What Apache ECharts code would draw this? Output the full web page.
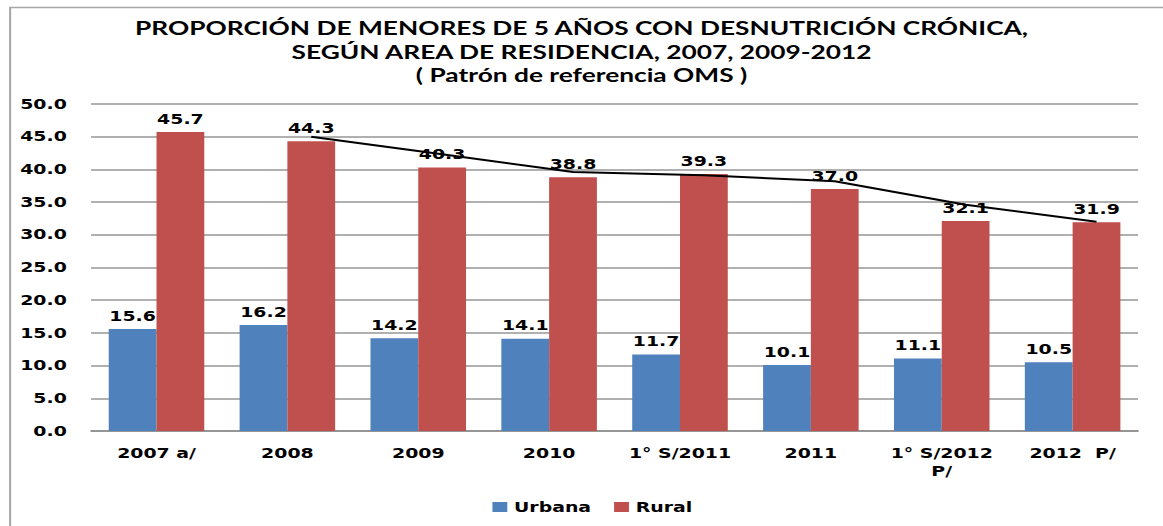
<!DOCTYPE html>
<html>
<head>
<meta charset="utf-8">
<title>Desnutrición crónica</title>
<script src="https://cdn.jsdelivr.net/npm/echarts@6/dist/echarts.min.js"></script>
<style>
  html, body { margin: 0; padding: 0; background: #fff; overflow: hidden; }
  /* the reference picture is stretched sideways, so we draw narrower and stretch it too */
  #chart { width: 862px; height: 526px; transform: scaleX(1.3492); transform-origin: 0 0; }
</style>
</head>
<body>
<div id="chart"></div>
<script>
var categories = ['2007 a/', '2008', '2009', '2010', '1° S/2011', '2011', '1° S/2012\nP/', '2012  P/'];
var urbana = [15.6, 16.2, 14.2, 14.1, 11.7, 10.1, 11.1, 10.5];
var rural = [45.7, 44.3, 40.3, 38.8, 39.3, 37.0, 32.1, 31.9];
// black trend line over the Rural bars
var tendencia = [null, 45.0, 42.3, 39.6, 39.1, 38.2, 34.6, 32.0];
var yTicks = { min: 0, max: 50, interval: 5 };

var labelFont = 'DejaVu Sans';
var catGap = 0.27;
// the rural bar is the right half of the group
var ruralOffset = (1 - catGap) / 4;

var lineData = [];
for (var i = 0; i < tendencia.length; i++) {
  if (tendencia[i] !== null) lineData.push([i + ruralOffset, tendencia[i]]);
}

var myChart = echarts.init(document.getElementById('chart'), null, { renderer: 'svg' });
var option = {
  animation: false,
  title: {
    text: 'PROPORCIÓN DE MENORES DE 5 AÑOS CON DESNUTRICIÓN CRÓNICA,\nSEGÚN AREA DE RESIDENCIA, 2007, 2009-2012\n( Patrón de referencia OMS )',
    left: 'center',
    top: 11,
    textStyle: {
      fontFamily: 'Lato',
      fontWeight: 'bold',
      fontSize: 19.5,
      lineHeight: 23.5,
      color: '#000'
    }
  },
  graphic: [{
    type: 'rect',
    left: 5,
    top: 5,
    shape: { width: 900, height: 560 },
    style: { fill: 'none', stroke: '#a6a6a6', lineWidth: 1.5 },
    silent: true
  }],
  legend: {
    data: ['Urbana', 'Rural'],
    left: 360,
    top: 495,
    icon: 'rect',
    itemWidth: 11,
    itemHeight: 10,
    itemGap: 17,
    textStyle: { fontFamily: labelFont, fontWeight: 'bold', fontSize: 14, color: '#000', padding: [0, 0, 0, 0] }
  },
  grid: { left: 67.5, right: 18.5, top: 104, bottom: 95 },
  xAxis: [{
    type: 'category',
    data: categories,
    axisTick: { show: false },
    axisLine: { lineStyle: { color: '#8c8c8c', width: 1.5 } },
    axisLabel: {
      margin: 13,
      interval: 0,
      fontFamily: labelFont,
      fontWeight: 'bold',
      fontSize: 14,
      lineHeight: 18,
      color: '#000'
    }
  }, {
    type: 'value',
    min: -0.5,
    max: categories.length - 0.5,
    show: false
  }],
  yAxis: {
    type: 'value',
    min: yTicks.min,
    max: yTicks.max,
    interval: yTicks.interval,
    axisLine: { show: false },
    axisTick: { show: false },
    splitLine: { lineStyle: { color: '#969696', width: 1.5 } },
    axisLabel: {
      margin: 18,
      fontFamily: labelFont,
      fontWeight: 'bold',
      fontSize: 14,
      color: '#000',
      formatter: function (v) { return v.toFixed(1); }
    }
  },
  series: [{
    name: 'Urbana',
    type: 'bar',
    data: urbana,
    barGap: '0%',
    barCategoryGap: (catGap * 100) + '%',
    itemStyle: { color: '#4F81BD' },
    label: {
      show: true,
      position: 'top',
      distance: 6,
      fontFamily: labelFont,
      fontWeight: 'bold',
      fontSize: 14,
      color: '#000',
      formatter: function (p) { return p.value.toFixed(1); }
    }
  }, {
    name: 'Rural',
    type: 'bar',
    data: rural,
    barGap: '0%',
    barCategoryGap: (catGap * 100) + '%',
    itemStyle: { color: '#C0504D' },
    label: {
      show: true,
      position: 'top',
      distance: 6,
      fontFamily: labelFont,
      fontWeight: 'bold',
      fontSize: 14,
      color: '#000',
      formatter: function (p) { return p.value.toFixed(1); }
    }
  }, {
    name: 'Tendencia',
    type: 'line',
    xAxisIndex: 1,
    data: lineData,
    showSymbol: false,
    lineStyle: { color: '#000', width: 2 },
    z: 5
  }]
};
option && myChart.setOption(option);
</script>
</body>
</html>
